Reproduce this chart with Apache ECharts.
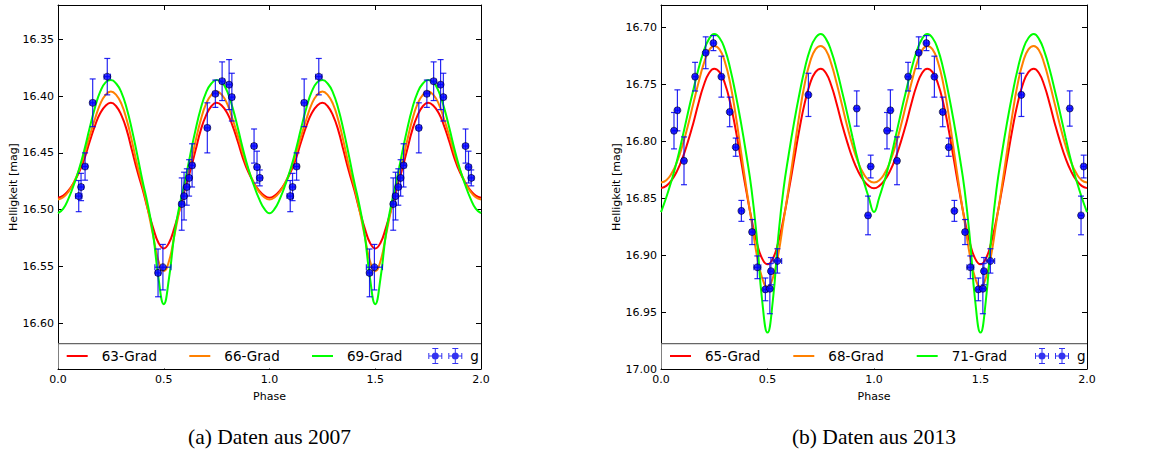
<!DOCTYPE html>
<html><head><meta charset="utf-8">
<script src="https://cdn.jsdelivr.net/npm/echarts@6/dist/echarts.min.js"></script>
<style>html,body{margin:0;padding:0;background:#fff}#c{width:1155px;height:457px}</style>
</head><body><div id="c"></div>
<script>
// ---------- data ----------
const xTicks = [0.0, 0.5, 1.0, 1.5, 2.0];
const yTicks2007 = [16.35, 16.40, 16.45, 16.50, 16.55, 16.60];
const yTicks2013 = [16.70, 16.75, 16.80, 16.85, 16.90, 16.95, 17.00];

// model curve sampling phases (one period)
const modelPhase = [0, 0.025, 0.05, 0.075, 0.1, 0.125, 0.15, 0.175, 0.2, 0.225, 0.25, 0.275, 0.3, 0.325, 0.35, 0.375, 0.4, 0.425, 0.45, 0.475, 0.5,
  0.525, 0.55, 0.575, 0.6, 0.625, 0.65, 0.675, 0.7, 0.725, 0.75, 0.775, 0.8, 0.825, 0.85, 0.875, 0.9, 0.925, 0.95, 0.975, 1.0];

const curveNames2007 = ['63-Grad', '66-Grad', '69-Grad'];
const grad63 = [16.4895, 16.4875, 16.483, 16.476, 16.467, 16.455, 16.440, 16.426, 16.415, 16.4085, 16.406, 16.409, 16.417, 16.430, 16.448, 16.466, 16.482, 16.500, 16.516, 16.529, 16.534,
  16.529, 16.516, 16.500, 16.482, 16.466, 16.448, 16.430, 16.417, 16.409, 16.406, 16.4085, 16.415, 16.426, 16.440, 16.455, 16.467, 16.476, 16.483, 16.4875, 16.4895];
const grad66 = [16.491, 16.489, 16.484, 16.476, 16.465, 16.451, 16.435, 16.420, 16.407, 16.399, 16.396, 16.399, 16.407, 16.421, 16.440, 16.461, 16.479, 16.500, 16.523, 16.545, 16.554,
  16.545, 16.523, 16.500, 16.479, 16.461, 16.440, 16.421, 16.407, 16.399, 16.396, 16.399, 16.407, 16.420, 16.435, 16.451, 16.465, 16.476, 16.484, 16.489, 16.491];
const grad69 = [16.503, 16.499, 16.490, 16.478, 16.464, 16.447, 16.428, 16.410, 16.396, 16.388, 16.386, 16.389, 16.397, 16.411, 16.430, 16.452, 16.475, 16.496, 16.522, 16.560, 16.583,
  16.560, 16.522, 16.496, 16.475, 16.452, 16.430, 16.411, 16.397, 16.389, 16.386, 16.388, 16.396, 16.410, 16.428, 16.447, 16.464, 16.478, 16.490, 16.499, 16.503];

const curveNames2013 = ['65-Grad', '68-Grad', '71-Grad'];
const grad65 = [16.841, 16.839, 16.834, 16.826, 16.815, 16.801, 16.785, 16.767, 16.751, 16.740, 16.736, 16.739, 16.749, 16.766, 16.789, 16.816, 16.843, 16.868, 16.889, 16.903, 16.908,
  16.903, 16.889, 16.868, 16.843, 16.816, 16.789, 16.766, 16.749, 16.739, 16.736, 16.740, 16.751, 16.767, 16.785, 16.801, 16.815, 16.826, 16.834, 16.839, 16.841];
const grad68 = [16.836, 16.834, 16.828, 16.818, 16.804, 16.787, 16.768, 16.749, 16.732, 16.720, 16.716, 16.719, 16.730, 16.749, 16.776, 16.808, 16.840, 16.870, 16.900, 16.920, 16.928,
  16.920, 16.900, 16.870, 16.840, 16.808, 16.776, 16.749, 16.730, 16.719, 16.716, 16.720, 16.732, 16.749, 16.768, 16.787, 16.804, 16.818, 16.828, 16.834, 16.836];
const grad71 = [16.862, 16.849, 16.834, 16.817, 16.797, 16.776, 16.756, 16.737, 16.721, 16.710, 16.7055, 16.709, 16.719, 16.736, 16.758, 16.783, 16.811, 16.842, 16.885, 16.940, 16.968,
  16.940, 16.885, 16.842, 16.811, 16.783, 16.758, 16.736, 16.719, 16.709, 16.7055, 16.710, 16.721, 16.737, 16.756, 16.776, 16.797, 16.817, 16.834, 16.849, 16.862];

// observations (one period, repeated at phase+1 as in the original plot)
const obsName = 'g';
const phase2007 = [0.098, 0.109, 0.128, 0.164, 0.233, 0.473, 0.496, 0.585, 0.596, 0.609, 0.620, 0.634, 0.706, 0.744, 0.776, 0.809, 0.822, 0.927, 0.941, 0.954];
const mag2007 = [16.488, 16.480, 16.462, 16.406, 16.383, 16.5555, 16.5505, 16.495, 16.488, 16.480, 16.472, 16.461, 16.428, 16.398, 16.387, 16.390, 16.401, 16.444, 16.4625, 16.472];
const magErr2007 = [0.0137, 0.012, 0.012, 0.021, 0.016, 0.021, 0.020, 0.023, 0.021, 0.016, 0.016, 0.019, 0.022, 0.012, 0.017, 0.022, 0.021, 0.015, 0.014, 0.007];
const phaseErr2007 = [0.015, 0.012, 0.012, 0.012, 0.015, 0.012, 0.038, 0.012, 0.012, 0.012, 0.012, 0.012, 0.012, 0.012, 0.012, 0.012, 0.012, 0.012, 0.012, 0.012];

const phase2013 = [0.061, 0.077, 0.108, 0.160, 0.210, 0.246, 0.2835, 0.3225, 0.3507, 0.3774, 0.4274, 0.4524, 0.490, 0.511, 0.516, 0.5464, 0.692, 0.919, 0.972, 0.9845];
const mag2013 = [16.7905, 16.7726, 16.817, 16.743, 16.722, 16.7135, 16.743, 16.774, 16.805, 16.861, 16.8796, 16.9106, 16.930, 16.9294, 16.914, 16.905, 16.759, 16.771, 16.865, 16.822];
const magErr2013 = [0.016, 0.018, 0.021, 0.0126, 0.014, 0.0066, 0.018, 0.013, 0.008, 0.0092, 0.011, 0.010, 0.010, 0.022, 0.012, 0.0107, 0.019, 0.0155, 0.017, 0.010];
const phaseErr2013 = [0.01, 0.01, 0.01, 0.01, 0.01, 0.01, 0.01, 0.01, 0.01, 0.01, 0.01, 0.016, 0.01, 0.01, 0.01, 0.02, 0.01, 0.01, 0.01, 0.01];

const captions = ['(a) Daten aus 2007', '(b) Daten aus 2013'];
const xName = 'Phase';
const yName = 'Helligkeit [mag]';

// ---------- styling / layout ----------
const FONT = 'DejaVu Sans';
const curveColors = ['#ff0000', '#ff8000', '#00ff00'];
const panels = [
  { grid: { left: 58, top: 5, width: 423, height: 364 }, ymin: 16.32, ymax: 16.64, yTicks: yTicks2007,
    names: curveNames2007, curves: [grad63, grad66, grad69],
    obs: [phase2007, mag2007, magErr2007, phaseErr2007], legendX: [8.7, 131.3, 254, 370.3], caption: captions[0] },
  { grid: { left: 661, top: 5, width: 426, height: 364 }, ymin: 16.68, ymax: 17.00, yTicks: yTicks2013,
    names: curveNames2013, curves: [grad65, grad68, grad71],
    obs: [phase2013, mag2013, magErr2013, phaseErr2013], legendX: [9, 132.3, 255.7, 374], caption: captions[1] }
];
const legendTop = 343.7;

function periodic(ph, vals) {
  const out = [];
  for (let k = 0; k < 2; k++) {
    for (let i = 0; i < ph.length; i++) {
      if (k === 1 && i === 0) continue;
      out.push([ph[i] + k, vals[i]]);
    }
  }
  return out;
}
function periodicObs(o) {
  const out = [];
  for (let k = 0; k < 2; k++)
    for (let i = 0; i < o[0].length; i++) out.push([o[0][i] + k, o[1][i], o[2][i], o[3][i]]);
  return out;
}

function errRender(params, api) {
  const x = api.value(0), y = api.value(1), ye = api.value(2), xe = api.value(3);
  const c = api.coord([x, y]);
  const t = api.coord([x, y - ye])[1], b = api.coord([x, y + ye])[1];
  const l = api.coord([x - xe, y])[0], r = api.coord([x + xe, y])[0];
  const cap = 3;
  const st = { stroke: 'rgba(0,0,240,0.85)', lineWidth: 1.2 };
  const ln = (x1, y1, x2, y2) => ({ type: 'line', shape: { x1, y1, x2, y2 }, style: st });
  return { type: 'group', children: [
    ln(c[0], t, c[0], b), ln(c[0] - cap, t, c[0] + cap, t), ln(c[0] - cap, b, c[0] + cap, b),
    ln(l, c[1], r, c[1]), ln(l, c[1] - cap, l, c[1] + cap), ln(r, c[1] - cap, r, c[1] + cap)
  ]};
}

const errIcon = (() => {
  let p = '';
  const rect = (x0, y0, x1, y1) => `M${x0},${y0}H${x1}V${y1}H${x0}Z`;
  [7, 27].forEach(cx => {
    p += rect(cx - 7, 7.5, cx + 7, 8.5) + rect(cx - 7, 5, cx - 6, 11) + rect(cx + 6, 5, cx + 7, 11);
    p += rect(cx - 0.5, 0, cx + 0.5, 16) + rect(cx - 3, 0, cx + 3, 1) + rect(cx - 3, 15, cx + 3, 16);
    p += `M${cx - 3.5},8A3.5,3.5 0 1,1 ${cx + 3.5},8A3.5,3.5 0 1,1 ${cx - 3.5},8Z`;
  });
  return 'path://' + p;
})();

const option = { animation: false, backgroundColor: '#fff', grid: [], xAxis: [], yAxis: [], series: [], legend: [], graphic: [] };
const tickStyle = { inside: true, length: 5, lineStyle: { color: '#000', width: 1 } };
const lineStyleAx = { show: true, onZero: false, lineStyle: { color: '#000', width: 1 } };
const labelStyle = { color: '#000', fontFamily: FONT, fontSize: 11 };

panels.forEach((P, pi) => {
  option.grid.push(Object.assign({ containLabel: false }, P.grid));
  const xb = pi * 2, yb = pi * 2;
  option.xAxis.push({ gridIndex: pi, type: 'value', position: 'bottom', min: 0, max: 2, interval: 0.5,
    axisLine: lineStyleAx, axisTick: tickStyle, splitLine: { show: false },
    axisLabel: Object.assign({ margin: 5, formatter: v => v.toFixed(1) }, labelStyle),
    name: xName, nameLocation: 'middle', nameGap: 21.5,
    nameTextStyle: { color: '#000', fontFamily: FONT, fontSize: 11 } });
  option.xAxis.push({ gridIndex: pi, type: 'value', position: 'top', min: 0, max: 2, interval: 0.5,
    axisLine: lineStyleAx, axisTick: tickStyle, splitLine: { show: false }, axisLabel: { show: false } });
  option.yAxis.push({ gridIndex: pi, type: 'value', position: 'left', inverse: true, min: P.ymin, max: P.ymax,
    axisLine: lineStyleAx, axisTick: Object.assign({ customValues: P.yTicks }, tickStyle), splitLine: { show: false },
    axisLabel: Object.assign({ margin: 4, customValues: P.yTicks, formatter: v => v.toFixed(2) }, labelStyle),
    name: yName, nameLocation: 'middle', nameGap: 37,
    nameTextStyle: { color: '#000', fontFamily: FONT, fontSize: 11 } });
  option.yAxis.push({ gridIndex: pi, type: 'value', position: 'right', inverse: true, min: P.ymin, max: P.ymax,
    axisLine: lineStyleAx, axisTick: Object.assign({ customValues: P.yTicks }, tickStyle), splitLine: { show: false },
    axisLabel: { show: false } });

  P.curves.forEach((vals, ci) => {
    option.series.push({ type: 'line', name: P.names[ci], xAxisIndex: xb, yAxisIndex: yb,
      data: periodic(modelPhase, vals), smooth: true, showSymbol: false, symbol: 'none', silent: true,
      color: curveColors[ci], itemStyle: { color: curveColors[ci] },
      lineStyle: { color: curveColors[ci], width: 2 }, z: 2 });
  });
  const obsData = periodicObs(P.obs);
  option.series.push({ type: 'custom', xAxisIndex: xb, yAxisIndex: yb, renderItem: errRender,
    data: obsData, encode: { x: 0, y: 1 }, silent: true, z: 3 });
  option.series.push({ type: 'scatter', name: obsName, xAxisIndex: xb, yAxisIndex: yb,
    data: obsData.map(d => [d[0], d[1]]), symbol: 'circle', symbolSize: 7, silent: true,
    color: '#0000ff', itemStyle: { color: '#0000ff', borderColor: '#000', borderWidth: 0.7 }, z: 4 });

  // legend frame
  const g = P.grid;
  option.graphic.push({ type: 'rect', z: 50, silent: true,
    shape: { x: g.left + 0.5, y: legendTop, width: g.width - 1, height: g.top + g.height - legendTop - 0.5 },
    style: { fill: '#fff', stroke: null } });
  option.graphic.push({ type: 'line', z: 51, silent: true,
    shape: { x1: g.left, y1: legendTop, x2: g.left + g.width, y2: legendTop },
    style: { stroke: '#666', lineWidth: 1.2 } });
  const legCenter = 356;
  P.names.forEach((nm, ci) => {
    option.legend.push({ data: [nm], left: g.left + P.legendX[ci], top: legCenter - 7, padding: 0,
      icon: 'path://M0,0H21V2H0Z', itemWidth: 21, itemHeight: 14, selectedMode: false, z: 60,
      itemStyle: { borderWidth: 0 },
      textStyle: { color: '#000', fontFamily: FONT, fontSize: 13.5, padding: [0, 0, 0, 9] } });
  });
  option.legend.push({ data: [obsName], left: g.left + P.legendX[3], top: legCenter - 8, padding: 0,
    icon: errIcon, itemWidth: 34, itemHeight: 16, selectedMode: false, z: 60,
    itemStyle: { borderWidth: 0, color: '#0000ee' },
    textStyle: { color: '#000', fontFamily: FONT, fontSize: 13.5, padding: [0, 0, 0, 3] } });

  option.graphic.push({ type: 'text', z: 60, silent: true, x: g.left + g.width / 2, y: 437,
    style: { text: P.caption, fill: '#000', font: '21.5px "Liberation Serif"', align: 'center', verticalAlign: 'middle',
      textAlign: 'center', textVerticalAlign: 'middle' } });
});

const chart = echarts.init(document.getElementById('c'), null, { renderer: 'svg' });
chart.setOption(option);
</script>
</body></html>
